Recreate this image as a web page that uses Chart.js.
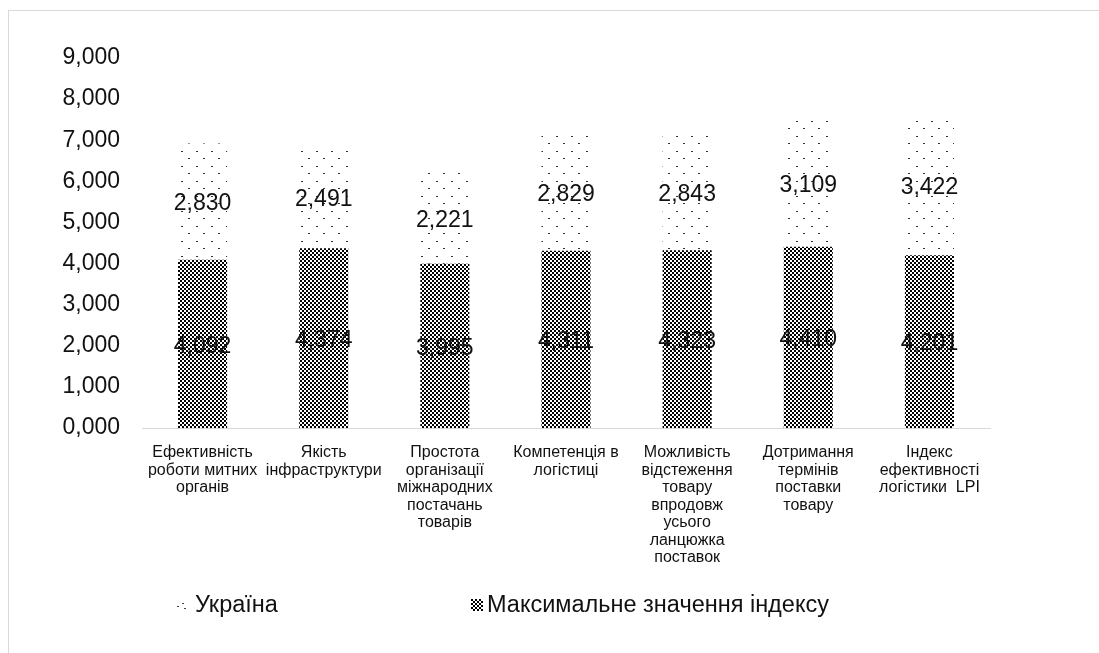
<!DOCTYPE html>
<html><head><meta charset="utf-8">
<script src="https://cdn.jsdelivr.net/npm/chart.js@4.4.1/dist/chart.umd.min.js"></script>
<style>
html,body{margin:0;padding:0;background:#fff;}
body{width:1099px;height:653px;overflow:hidden;position:relative;font-family:"Liberation Sans",Arial,sans-serif;}
#frame{position:absolute;left:8px;top:10px;width:1300px;height:900px;border:1px solid #d9d9d9;box-sizing:border-box;}
#wrap{position:absolute;left:0;top:0;width:1099px;height:653px;}
.leg{position:absolute;top:591px;height:26px;font-size:23.5px;color:#111;line-height:26px;white-space:nowrap;}
.leg canvas{position:absolute;left:0;top:8px;}
.leg span{position:absolute;top:0;}
</style></head><body>
<div id="frame"></div>
<div id="wrap"><canvas id="c" width="1099" height="653"></canvas></div>
<div class="leg" style="left:176px"><canvas id="sw1" width="12" height="12"></canvas><span style="left:19px">Україна</span></div>
<div class="leg" style="left:471px"><canvas id="sw2" width="12" height="12"></canvas><span style="left:16px">Максимальне значення індексу</span></div>
<script>
const categories = [
  ["Ефективність","роботи митних","органів"],
  ["Якість","інфраструктури"],
  ["Простота","організації","міжнародних","постачань","товарів"],
  ["Компетенція в","логістиці"],
  ["Можливість","відстеження","товару","впродовж","усього","ланцюжка","поставок"],
  ["Дотримання","термінів","поставки","товару"],
  ["Індекс","ефективності","логістики  LPI"]
];
const maxIndexValues = [4.092, 4.374, 3.995, 4.311, 4.323, 4.410, 4.201];
const ukraineValues = [2.830, 2.491, 2.221, 2.829, 2.843, 3.109, 3.422];
const seriesNames = ["Україна", "Максимальне значення індексу"];
const yMin = 0, yMax = 9, yStep = 1;

function fmt(v){ return Number(v).toFixed(3).replace('.', ','); }

function denseTile(){
  const c=document.createElement('canvas'); c.width=4; c.height=4;
  const x=c.getContext('2d');
  x.fillStyle='#fff'; x.fillRect(0,0,4,4);
  x.fillStyle='#000'; x.fillRect(0,0,2,2); x.fillRect(2,2,2,2);
  return c;
}
function sparseTile(){
  const c=document.createElement('canvas'); c.width=15; c.height=15;
  const x=c.getContext('2d');
  x.fillStyle='#fff'; x.fillRect(0,0,15,15);
  x.fillStyle='#333'; x.fillRect(1,1,2,1); x.fillRect(8,8,2,1);
  return c;
}
const mainCtx=document.getElementById('c').getContext('2d');
const densePat=mainCtx.createPattern(denseTile(),'repeat');
const sparsePat=mainCtx.createPattern(sparseTile(),'repeat');

function fillSwatch(id, tileFn){
  const cv=document.getElementById(id); const x=cv.getContext('2d');
  x.fillStyle=x.createPattern(tileFn(),'repeat'); x.fillRect(0,0,cv.width,cv.height);
}
fillSwatch('sw1', function(){
  const c=document.createElement('canvas'); c.width=12; c.height=12;
  const x=c.getContext('2d'); x.fillStyle='#fff'; x.fillRect(0,0,12,12);
  x.fillStyle='#444'; x.fillRect(1,7,2,1); x.fillRect(6,4,2,1); x.fillRect(8,9,2,1);
  return c;
});
fillSwatch('sw2', denseTile);

const valueLabels = {
  id:'valueLabels',
  afterDatasetsDraw(chart){
    const ctx=chart.ctx; ctx.save();
    ctx.font='23px "Liberation Sans", Arial, sans-serif';
    ctx.fillStyle='#111'; ctx.textAlign='center'; ctx.textBaseline='middle';
    chart.data.datasets.forEach((ds,i)=>{
      const meta=chart.getDatasetMeta(i);
      meta.data.forEach((bar,j)=>{
        const p=bar.getProps(['x','y','base'],true);
        ctx.fillText(fmt(ds.data[j]), p.x, (p.y+p.base)/2 + 2.5);
      });
    });
    ctx.restore();
  }
};

new Chart(document.getElementById('c'), {
  type:'bar',
  data:{
    labels:categories,
    datasets:[
      {label:seriesNames[1], data:maxIndexValues, backgroundColor:densePat, borderWidth:0, stack:'s'},
      {label:seriesNames[0], data:ukraineValues, backgroundColor:sparsePat, borderWidth:0, stack:'s'}
    ]
  },
  options:{
    responsive:false, animation:false, devicePixelRatio:1,
    layout:{padding:{left:50, top:58, right:109, bottom:85}},
    datasets:{bar:{categoryPercentage:1, barPercentage:0.405}},
    plugins:{legend:{display:false}, tooltip:{enabled:false}},
    scales:{
      x:{
        stacked:true,
        grid:{display:false, drawTicks:false},
        border:{display:true, color:'#d9d9d9', width:1},
        ticks:{autoSkip:false, maxRotation:0, minRotation:0, padding:16, color:'#111',
          font:{family:'"Liberation Sans", Arial, sans-serif', size:16, lineHeight:1.094}},
        afterFit(s){ s.height=140; }
      },
      y:{
        stacked:true, min:yMin, max:yMax,
        grid:{display:false, drawTicks:false},
        border:{display:false},
        ticks:{stepSize:yStep, padding:22, color:'#111', callback:(v)=>fmt(v),
          font:{family:'"Liberation Sans", Arial, sans-serif', size:23}},
        afterFit(s){ s.width=92; }
      }
    }
  },
  plugins:[valueLabels]
});
</script>
</body></html>
